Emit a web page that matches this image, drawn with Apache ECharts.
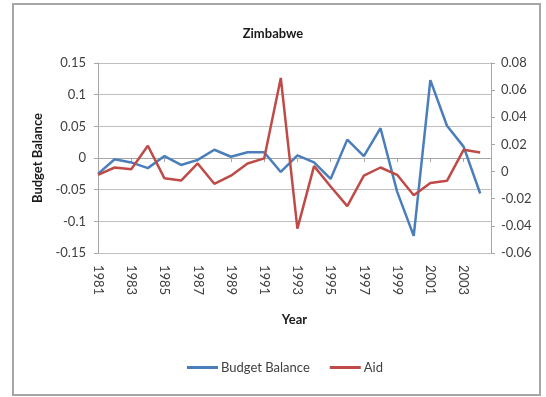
<!DOCTYPE html>
<html>
<head>
<meta charset="utf-8">
<script src="https://cdn.jsdelivr.net/npm/echarts@6/dist/echarts.min.js"></script>
<style>
  html, body { margin: 0; padding: 0; background: #fff; }
  #chart { width: 546px; height: 397px; }
</style>
</head>
<body>
<div id="chart"></div>
<script>
// years on the x axis
var years = [1981, 1982, 1983, 1984, 1985, 1986, 1987, 1988, 1989, 1990, 1991, 1992,
             1993, 1994, 1995, 1996, 1997, 1998, 1999, 2000, 2001, 2002, 2003, 2004];
// budget balance (left axis)
var budgetBalance = [-0.025, -0.002, -0.007, -0.016, 0.003, -0.011, -0.003, 0.013, 0.002, 0.009, 0.009, -0.022,
                     0.004, -0.007, -0.033, 0.029, 0.003, 0.047, -0.053, -0.123, 0.123, 0.051, 0.018, -0.056];
// aid (right axis)
var aid = [-0.0024, 0.003, 0.0017, 0.019, -0.005, -0.0066, 0.006, -0.009, -0.003, 0.006, 0.0097, 0.069,
           -0.042, 0.004, -0.011, -0.0255, -0.003, 0.003, -0.0024, -0.0175, -0.0085, -0.0068, 0.016, 0.014];

var bbData = [];
var aidData = [];
for (let i = 0; i < years.length; i++) {
  bbData.push([years[i], budgetBalance[i]]);
  aidData.push([years[i], aid[i]]);
}

var font = "Lato, 'Open Sans', sans-serif";
var textCol = "#404040";

var option = {
  animation: false,
  textStyle: { fontFamily: font },
  title: {
    text: "Zimbabwe",
    left: "center",
    top: 22,
    textStyle: { fontFamily: font, fontSize: 13, fontWeight: "bold", color: "#1a1a1a" }
  },
  graphic: [{
    type: "rect",
    shape: { x: 13, y: 4, width: 527, height: 391 },
    style: { fill: "none", stroke: "#a6a6a6", lineWidth: 2 },
    silent: true
  }],
  legend: {
    bottom: 18,
    left: 182,
    icon: "rect",
    itemWidth: 31,
    itemHeight: 3,
    itemGap: 20,
    textStyle: { fontFamily: font, fontSize: 13, color: textCol, padding: [0, 0, 0, -2] },
    data: ["Budget Balance", "Aid"]
  },
  grid: { left: 98, right: 55, top: 63, bottom: 144 },
  xAxis: {
    type: "value",
    min: 1981,
    max: 2004.65,
    interval: 2,
    name: "Year",
    nameLocation: "middle",
    nameGap: 60,
    nameTextStyle: { fontFamily: font, fontSize: 13, fontWeight: "bold", color: "#1a1a1a" },
    splitLine: { show: false },
    axisLine: { lineStyle: { color: "#a6a6a6" } },
    axisTick: { show: true, inside: false, length: 4, lineStyle: { color: "#a6a6a6" } },
    axisLabel: {
      rotate: -90,
      margin: 12,
      fontSize: 13,
      color: textCol,
      showMaxLabel: false,
      formatter: function (v) { return Number.isInteger(v) ? String(v) : ""; }
    }
  },
  yAxis: [
    {
      type: "value",
      min: -0.15,
      max: 0.15,
      interval: 0.05,
      name: "Budget Balance",
      nameLocation: "middle",
      nameGap: 50,
      nameTextStyle: { fontFamily: font, fontSize: 13, fontWeight: "bold", color: "#1a1a1a" },
      axisLine: { show: true, lineStyle: { color: "#a6a6a6" } },
      axisTick: { show: true, inside: false, length: 4, lineStyle: { color: "#a6a6a6" } },
      splitLine: { lineStyle: { color: "#bfbfbf", width: 1 } },
      axisLabel: {
        margin: 12,
        fontSize: 13,
        color: textCol,
        formatter: function (v) { return String(+v.toFixed(2)); }
      }
    },
    {
      type: "value",
      min: -0.06,
      max: 0.08,
      interval: 0.02,
      position: "right",
      axisLine: { show: true, lineStyle: { color: "#a6a6a6" } },
      axisTick: { show: true, inside: false, length: 4, lineStyle: { color: "#a6a6a6" } },
      splitLine: { show: false },
      axisLabel: {
        margin: 10,
        fontSize: 13,
        color: textCol,
        formatter: function (v) { return String(+v.toFixed(2)); }
      }
    }
  ],
  series: [
    {
      name: "Budget Balance",
      type: "line",
      yAxisIndex: 0,
      data: bbData,
      showSymbol: false,
      symbol: "none",
      itemStyle: { color: "#4a7ebb" },
      lineStyle: { color: "#4a7ebb", width: 2.5 }
    },
    {
      name: "Aid",
      type: "line",
      yAxisIndex: 1,
      data: aidData,
      showSymbol: false,
      symbol: "none",
      itemStyle: { color: "#be4b48" },
      lineStyle: { color: "#be4b48", width: 2.5 }
    }
  ]
};

var myChart = echarts.init(document.getElementById("chart"));
myChart.setOption(option);
</script>
</body>
</html>
